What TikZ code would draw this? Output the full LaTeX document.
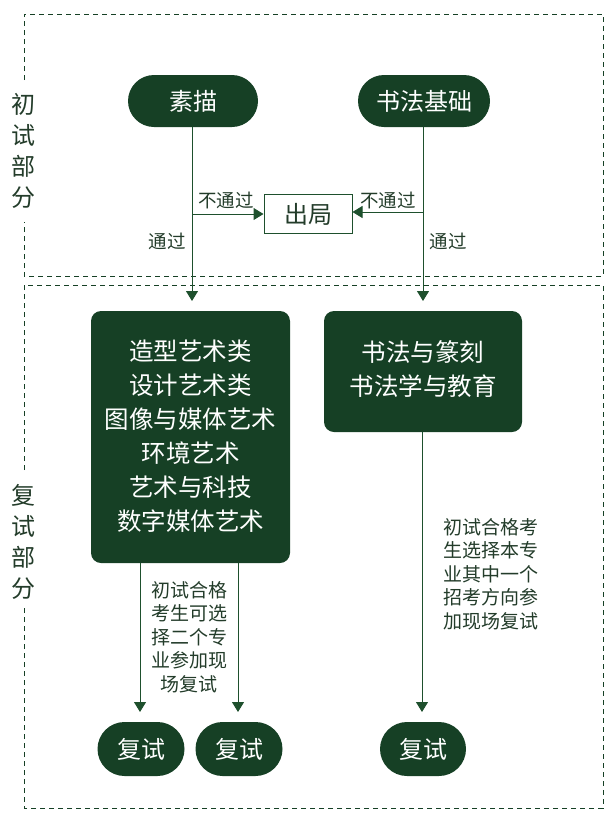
\documentclass[tikz,border=0pt]{standalone}
\usepackage{fontspec}
\setmainfont{Noto Sans CJK SC}
\usetikzlibrary{shapes.misc,arrows.meta}
\definecolor{dg}{RGB}{22,64,37}
\definecolor{lg}{RGB}{30,80,45}
\definecolor{tg}{RGB}{35,60,42}
\begin{document}
\begin{tikzpicture}[x=1pt,y=-1pt,
  pill/.style={rounded rectangle,fill=dg,text=white,font=\fontsize{24}{28}\selectfont,inner sep=0pt},
  bigbox/.style={rectangle,rounded corners=10pt,fill=dg,inner sep=0pt},
  btext/.style={text=white,align=center,font=\fontsize{24.5}{34}\selectfont,inner sep=0pt},
  arr/.style={draw=lg,line width=1pt,-{Triangle[width=12pt,length=10pt]}},
  dsh/.style={draw=dg,line width=1pt,dash pattern=on 5pt off 4pt},
  lab/.style={text=tg,font=\fontsize{18.5}{22}\selectfont,inner sep=0pt},
  note/.style={text=tg,font=\fontsize{19}{23.5}\selectfont,inner sep=0pt,align=center},
  side/.style={text=tg,font=\fontsize{24}{31}\selectfont,inner sep=0pt,align=center}]
\useasboundingbox (0,0) rectangle (616,825);
% dashed frames
\draw[dsh] (24,80) -- (24,14) -- (603,14) -- (603,276) -- (24,276) -- (24,222);
\draw[dsh] (24,470) -- (24,285) -- (603,285) -- (603,808) -- (24,808) -- (24,606);
\node[side] (s1) at (24,151) {初\\试\\部\\分};
\node[side] (s2) at (24,542) {复\\试\\部\\分};
% top nodes
\node[pill,minimum width=130pt,minimum height=52pt] (sumiao) at (193,101) {素描};
\node[pill,minimum width=132pt,minimum height=52pt] (shufa) at (424,101) {书法基础};
\node[draw=lg,line width=1pt,minimum width=88pt,minimum height=39pt,inner sep=0pt,text=tg,font=\fontsize{24}{28}\selectfont] (chuju) at (308,214) {出局};
% big boxes
\node[bigbox,minimum width=199pt,minimum height=252pt] (lbox) at (190.5,437) {};
\node[btext] (ltext) at (190.5,436) {造型艺术类\\设计艺术类\\图像与媒体艺术\\环境艺术\\艺术与科技\\数字媒体艺术};
\node[bigbox,minimum width=198pt,minimum height=121pt] (rbox) at (423,371.5) {};
\node[btext] (rtext) at (423,369) {书法与篆刻\\书法学与教育};
% bottom pills
\node[pill,minimum width=87pt,minimum height=54pt] (f1) at (141,749) {复试};
\node[pill,minimum width=87pt,minimum height=54pt] (f2) at (239,749) {复试};
\node[pill,minimum width=86pt,minimum height=54pt] (f3) at (423,749) {复试};
% coordinates
\coordinate (a1) at (192,301);
\coordinate (a2) at (423,301);
\coordinate (b1) at (192,214);
\coordinate (b2) at (423,212);
\coordinate (c1) at (140,563);
\coordinate (c2) at (238,563);
\coordinate (c3) at (422,432);
\coordinate (d1) at (140,712);
\coordinate (d2) at (238,712);
\coordinate (d3) at (422,712);
% connectors
\draw[arr] (192,127) -- (a1);
\draw[arr] (423,127) -- (a2);
\draw[arr] (b1) -- (chuju.west);
\draw[arr] (b2) -- (chuju.east |- b2);
\draw[arr] (c1) -- (d1);
\draw[arr] (c2) -- (d2);
\draw[arr] (c3) -- (d3);
% labels
\node[lab] (l1) at (226,200) {不通过};
\node[lab] (l2) at (388,200) {不通过};
\node[lab] (l3) at (167,241) {通过};
\node[lab] (l4) at (448,241) {通过};
\node[note] (n1) at (189,637) {初试合格\\考生可选\\择二个专\\业参加现\\场复试};
\node[note] (n2) at (491,574) {初试合格考\\生选择本专\\业其中一个\\招考方向参\\加现场复试};
\end{tikzpicture}
\end{document}
